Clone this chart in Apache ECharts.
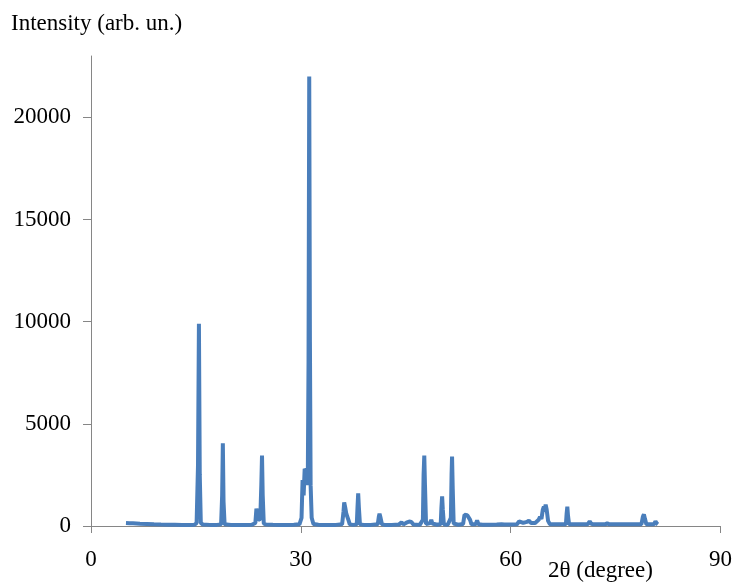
<!DOCTYPE html>
<html>
<head>
<meta charset="utf-8">
<script src="https://cdn.jsdelivr.net/npm/echarts@6/dist/echarts.min.js"></script>
<style>html,body{margin:0;padding:0;background:#fff}#c{width:735px;height:583px}</style>
</head>
<body>
<div id="c"></div>
<script>
var twoTheta = [
  5.0, 5.5, 6.0, 7.0, 8.0, 9.0, 10.0, 11.0, 12.0, 13.0, 14.0, 14.8,
  15.1, 15.3, 15.43, 15.55, 15.7, 16.0, 17.0, 18.0,
  18.6, 18.75, 18.85, 18.95, 19.1, 20.0, 21.0, 22.0, 23.0,
  23.5, 23.65, 23.75, 23.9, 24.2, 24.35, 24.45, 24.55, 24.7, 25.0, 26.0, 27.0, 28.0, 29.0,
  29.8, 30.1, 30.25, 30.4, 30.55, 30.7, 30.85, 31.0, 31.1, 31.2, 31.3, 31.4, 31.55, 31.8,
  32.5, 33.0, 34.0, 35.0,
  35.9, 36.1, 36.2, 36.35, 36.5, 36.65, 36.8, 37.0, 37.5,
  38.0, 38.1, 38.2, 38.3, 38.45, 39.0, 40.0,
  41.0, 41.15, 41.25, 41.4, 41.6, 42.0, 43.0,
  44.0, 44.4, 44.7, 45.2, 45.5, 45.8, 46.1, 47.0,
  47.45, 47.55, 47.65, 47.75, 47.9, 48.5, 48.65, 48.8, 49.5,
  50.0, 50.1, 50.2, 50.3, 50.45, 51.0,
  51.45, 51.55, 51.62, 51.72, 51.85, 52.5,
  53.2, 53.4, 53.6, 53.8, 54.0, 54.2, 54.4, 55.0, 55.2, 55.4, 56.0, 57.0, 58.0,
  58.7, 58.9, 59.1, 60.0,
  60.9, 61.2, 61.4, 61.8, 62.3, 62.6, 62.9, 63.5,
  64.0, 64.2, 64.4, 64.6, 64.75, 64.85, 65.0, 65.15, 65.35, 65.6, 66.0, 67.0,
  67.9, 68.0, 68.1, 68.2, 68.35, 69.0, 70.0,
  71.0, 71.3, 71.5, 71.8, 73.5, 73.8, 74.1, 75.0, 76.0, 77.0, 78.0,
  78.7, 78.9, 79.05, 79.2, 79.4, 80.0, 80.5, 80.7, 80.9, 81.05
];
var intensity = [
  150, 140, 130, 110, 95, 80, 70, 65, 60, 55, 55, 60,
  150, 3000, 9900, 2500, 150, 70, 55, 55,
  80, 1500, 4050, 1200, 80, 55, 55, 55, 60,
  150, 850, 820, 300, 350, 2000, 3450, 1500, 120, 70, 60, 55, 55, 60,
  80, 400, 2250, 1500, 2800, 2700, 2000, 2500, 8000, 22000, 9000, 2000, 400, 100,
  60, 55, 55, 55,
  80, 700, 1150, 900, 600, 650, 300, 80, 55,
  80, 900, 1600, 900, 80, 55, 55,
  90, 450, 600, 400, 80, 55, 55,
  70, 180, 80, 180, 220, 200, 70, 55,
  300, 2500, 3450, 2000, 100, 150, 300, 120, 60,
  100, 900, 1450, 800, 80, 60,
  400, 2500, 3400, 1800, 120, 60,
  100, 550, 570, 530, 560, 300, 80, 80, 280, 80, 60, 60, 70,
  80, 150, 70, 70,
  80, 230, 200, 150, 200, 260, 150, 150,
  300, 450, 350, 800, 950, 700, 1050, 800, 250, 90, 80, 80,
  90, 600, 950, 500, 90, 80, 80,
  80, 230, 120, 80, 80, 130, 80, 80, 80, 80, 80,
  90, 450, 570, 350, 90, 80, 90, 230, 120, 80
];
var xTicks = [0, 30, 60, 90];
var yTicks = [0, 5000, 10000, 15000, 20000];
var yTitle = 'Intensity (arb. un.)';
var xTitle = '2θ (degree)';

var pts = twoTheta.map(function (t, i) { return [t, intensity[i]]; });
var font = '"Liberation Serif", "Times New Roman", serif';
var axisGrey = '#868686';

var chart = echarts.init(document.getElementById('c'), null, {renderer: 'canvas'});
chart.setOption({
  animation: false,
  backgroundColor: '#fff',
  grid: {left: 91, right: 14, top: 56, bottom: 57, containLabel: false},
  xAxis: {
    type: 'value', min: 0, max: 90, interval: 30,
    axisLine: {show: true, lineStyle: {color: axisGrey, width: 1}},
    axisTick: {show: true, length: 7, inside: false, lineStyle: {color: axisGrey}, customValues: xTicks},
    axisLabel: {margin: 22, color: '#000', fontFamily: font, fontSize: 23, customValues: xTicks,
      formatter: function (v) { return String(v); }},
    splitLine: {show: false}
  },
  yAxis: {
    type: 'value', min: 0, max: 23000, interval: 5000,
    axisLine: {show: true, lineStyle: {color: axisGrey, width: 1}},
    axisTick: {show: true, length: 8, inside: false, lineStyle: {color: axisGrey}, customValues: yTicks},
    axisLabel: {margin: 20, color: '#000', fontFamily: font, fontSize: 23, customValues: yTicks,
      formatter: function (v) { return String(v); }},
    splitLine: {show: false}
  },
  graphic: [
    {type: 'text', left: 11, top: 12, style: {text: yTitle, fill: '#000', font: '23px ' + font}},
    {type: 'text', left: 548, top: 559, style: {text: xTitle, fill: '#000', font: '23px ' + font}}
  ],
  series: [{
    type: 'line',
    data: pts,
    showSymbol: false,
    symbol: 'none',
    lineStyle: {color: '#4a7ebb', width: 4},
    itemStyle: {color: '#4a7ebb'}
  }]
});
</script>
</body>
</html>
